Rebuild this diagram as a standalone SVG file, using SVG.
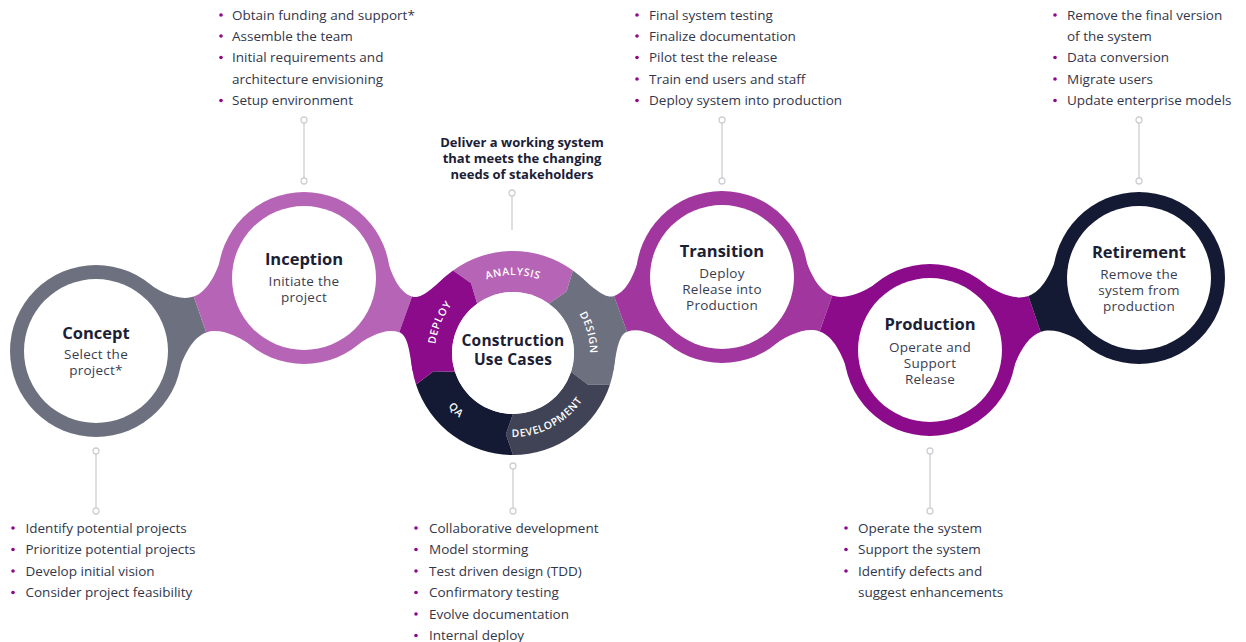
<svg xmlns="http://www.w3.org/2000/svg" width="1246" height="642" viewBox="0 0 1246 642">
<style>
.ttl{font-family:"Open Sans","Noto Sans",sans-serif;font-weight:700;font-size:16.5px;fill:#1b2035;text-anchor:middle}
.ctr{font-family:"Open Sans","Noto Sans",sans-serif;font-weight:700;font-size:15.5px;letter-spacing:0.2px;fill:#1b2035;text-anchor:middle}
.sub{font-family:"Open Sans","Noto Sans",sans-serif;font-size:13.5px;letter-spacing:0.25px;fill:#3a3d50;text-anchor:middle}
.li{font-family:"Open Sans","Noto Sans",sans-serif;font-size:13.5px;fill:#33364a}
.dl{font-family:"Open Sans","Noto Sans",sans-serif;font-weight:700;font-size:13px;fill:#1b2035;text-anchor:middle}
.seg{font-family:"Open Sans","Noto Sans",sans-serif;font-weight:600;font-size:10.5px;fill:#ffffff;letter-spacing:0.6px}
.lead{stroke:#d5d5d9;stroke-width:1.5;fill:none}
.tick{stroke:#cfcfd4;stroke-width:1.3;fill:#ffffff}
.bul{fill:#8b0a8b}
.white{fill:#ffffff}
.c-gray{fill:#6d707e}
.c-lpur{fill:#b665b6}
.c-pur{fill:#a1369f}
.c-dpur{fill:#8b0b8b}
.c-navy{fill:#141a33}
.c-slate{fill:#404356}
</style>
<defs>
<path id="pAnalysis" d="M 462.86 293.25 A 78 78 0 0 1 563.14 293.25"/>
<path id="pDesign" d="M 557.17 289.92 A 77 77 0 0 1 582.79 385.54"/>
<path id="pDevelopment" d="M 491.26 434.14 A 84 84 0 0 0 591.93 381.73"/>
<path id="pQA" d="M 431.86 374.74 A 84 84 0 0 0 491.26 434.14"/>
<path id="pDeploy" d="M 437.66 373.19 A 78 78 0 0 1 474 285.45"/>
</defs>
<rect width="1246" height="642" fill="#ffffff"/>

<g id="connectors">
  <g transform="translate(96,351) rotate(-19.33)">
    <path class="c-gray" d="M 68.8,-50 C 80.5,-33.8 95.2,-19 110.2,-19 L 110.2,19 C 95.2,19 80.5,33.8 68.8,50 Z"/>
    <path class="c-lpur" d="M 151.6,-50 C 139.9,-33.8 125.2,-19 110.2,-19 L 110.2,19 C 125.2,19 139.9,33.8 151.6,50 Z"/>
  </g>
  <g transform="translate(304,278) rotate(19.74)">
    <path class="c-lpur" d="M 68.8,-50 C 80.5,-33.8 93,-19 108,-19 L 108,19 C 93,19 80.5,33.8 68.8,50 Z"/>
    <path class="c-dpur" d="M 133.75,-51 C 125.75,-37.1 118,-19 108,-19 L 108,19 C 118,19 125.75,37.1 133.75,51 Z"/>
  </g>
  <g transform="translate(513,353) rotate(-19.98)">
    <path class="c-gray" d="M 88.3,-51 C 96.3,-37.1 104.4,-19 114.4,-19 L 114.4,19 C 104.4,19 96.3,37.1 88.3,51 Z"/>
    <path class="c-pur" d="M 153.6,-50 C 141.9,-33.8 129.4,-19 114.4,-19 L 114.4,19 C 129.4,19 141.9,33.8 153.6,50 Z"/>
  </g>
  <g transform="translate(722,277) rotate(19.33)">
    <path class="c-pur" d="M 68.8,-50 C 80.5,-33.8 95.2,-19 110.2,-19 L 110.2,19 C 95.2,19 80.5,33.8 68.8,50 Z"/>
    <path class="c-dpur" d="M 151.6,-50 C 139.9,-33.8 125.2,-19 110.2,-19 L 110.2,19 C 125.2,19 139.9,33.8 151.6,50 Z"/>
  </g>
  <g transform="translate(930,350) rotate(-19.01)">
    <path class="c-dpur" d="M 68.8,-50 C 80.5,-33.8 95.55,-19 110.55,-19 L 110.55,19 C 95.55,19 80.5,33.8 68.8,50 Z"/>
    <path class="c-navy" d="M 152.3,-50 C 140.6,-33.8 125.55,-19 110.55,-19 L 110.55,19 C 125.55,19 140.6,33.8 152.3,50 Z"/>
  </g>
  <line class="lead" x1="304" y1="120" x2="304" y2="181"/>
  <circle class="tick" cx="304" cy="120" r="3"/><circle class="tick" cx="304" cy="181" r="3"/>
  <line class="lead" x1="512" y1="193" x2="512" y2="230"/>
  <circle class="tick" cx="512" cy="193" r="3"/>
  <line class="lead" x1="722" y1="120" x2="722" y2="181"/>
  <circle class="tick" cx="722" cy="120" r="3"/><circle class="tick" cx="722" cy="181" r="3"/>
  <line class="lead" x1="1139" y1="120" x2="1139" y2="181"/>
  <circle class="tick" cx="1139" cy="120" r="3"/><circle class="tick" cx="1139" cy="181" r="3"/>
  <line class="lead" x1="96" y1="451" x2="96" y2="511"/>
  <circle class="tick" cx="96" cy="451" r="3"/><circle class="tick" cx="96" cy="511" r="3"/>
  <line class="lead" x1="513" y1="466" x2="513" y2="511"/>
  <circle class="tick" cx="513" cy="466" r="3"/><circle class="tick" cx="513" cy="511" r="3"/>
  <line class="lead" x1="930" y1="451" x2="930" y2="511"/>
  <circle class="tick" cx="930" cy="451" r="3"/><circle class="tick" cx="930" cy="511" r="3"/>
</g>

<g id="concept">
  <circle class="c-gray" cx="96" cy="351" r="86"/>
  <circle class="white" cx="96" cy="351" r="72"/>
  <text class="ttl" x="96" y="339">Concept</text>
  <text class="sub" x="96" y="359">Select the</text>
  <text class="sub" x="96" y="375">project*</text>
</g>

<g id="inception">
  <circle class="c-lpur" cx="304" cy="278" r="86"/>
  <circle class="white" cx="304" cy="278" r="72"/>
  <text class="ttl" x="304" y="265">Inception</text>
  <text class="sub" x="304" y="286">Initiate the</text>
  <text class="sub" x="304" y="302">project</text>
</g>

<g id="construction">
  <path class="c-lpur" d="M 453.04 270.48 A 102 102 0 0 1 572.96 270.48 L 566.47 291.49 L 548.86 303.65 A 61 61 0 0 0 477.14 303.65 L 471.03 283.14 Z"/>
  <path class="c-gray" d="M 572.96 270.48 A 102 102 0 0 1 610.01 384.52 L 588.02 384.84 L 571.02 371.85 A 61 61 0 0 0 548.86 303.65 L 566.47 291.49 Z"/>
  <path class="c-slate" d="M 610.01 384.52 A 102 102 0 0 1 513 455 L 505.89 434.19 L 513 414 A 61 61 0 0 0 571.02 371.85 L 588.02 384.84 Z"/>
  <path class="c-navy" d="M 513 455 A 102 102 0 0 1 415.99 384.52 L 433.59 371.34 L 454.98 371.85 A 61 61 0 0 0 513 414 L 505.89 434.19 Z"/>
  <path class="c-dpur" d="M 415.99 384.52 A 102 102 0 0 1 453.04 270.48 L 471.03 283.14 L 477.14 303.65 A 61 61 0 0 0 454.98 371.85 L 433.59 371.34 Z"/>
  <circle class="white" cx="513" cy="353" r="61"/>
  <text class="seg"><textPath href="#pAnalysis" startOffset="50%" text-anchor="middle">ANALYSIS</textPath></text>
  <text class="seg"><textPath href="#pDesign" startOffset="50%" text-anchor="middle">DESIGN</textPath></text>
  <text class="seg"><textPath href="#pDevelopment" startOffset="50%" text-anchor="middle">DEVELOPMENT</textPath></text>
  <text class="seg"><textPath href="#pQA" startOffset="50%" text-anchor="middle">QA</textPath></text>
  <text class="seg"><textPath href="#pDeploy" startOffset="50%" text-anchor="middle">DEPLOY</textPath></text>
  <text class="ctr" x="513" y="345.5">Construction</text>
  <text class="ctr" x="513" y="364.5">Use Cases</text>
</g>

<g id="transition">
  <circle class="c-pur" cx="722" cy="277" r="86"/>
  <circle class="white" cx="722" cy="277" r="72"/>
  <text class="ttl" x="722" y="257">Transition</text>
  <text class="sub" x="722" y="278">Deploy</text>
  <text class="sub" x="722" y="294">Release into</text>
  <text class="sub" x="722" y="310">Production</text>
</g>

<g id="production">
  <circle class="c-dpur" cx="930" cy="350" r="86"/>
  <circle class="white" cx="930" cy="350" r="72"/>
  <text class="ttl" x="930" y="330">Production</text>
  <text class="sub" x="930" y="352">Operate and</text>
  <text class="sub" x="930" y="368">Support</text>
  <text class="sub" x="930" y="384">Release</text>
</g>

<g id="retirement">
  <circle class="c-navy" cx="1139" cy="278" r="86"/>
  <circle class="white" cx="1139" cy="278" r="72"/>
  <text class="ttl" x="1139" y="258">Retirement</text>
  <text class="sub" x="1139" y="279">Remove the</text>
  <text class="sub" x="1139" y="295">system from</text>
  <text class="sub" x="1139" y="311">production</text>
</g>

<g id="goal">
  <text class="dl" x="522" y="147">Deliver a working system</text>
  <text class="dl" x="522" y="163">that meets the changing</text>
  <text class="dl" x="522" y="179">needs of stakeholders</text>
</g>

<g id="inception-notes">
  <circle class="bul" cx="221" cy="15" r="1.8"/><text class="li" x="232" y="19.5">Obtain funding and support*</text>
  <circle class="bul" cx="221" cy="36" r="1.8"/><text class="li" x="232" y="40.5">Assemble the team</text>
  <circle class="bul" cx="221" cy="57.5" r="1.8"/><text class="li" x="232" y="62">Initial requirements and</text>
  <text class="li" x="232" y="83.5">architecture envisioning</text>
  <circle class="bul" cx="221" cy="100.5" r="1.8"/><text class="li" x="232" y="105">Setup environment</text>
</g>

<g id="transition-notes">
  <circle class="bul" cx="637" cy="15" r="1.8"/><text class="li" x="649" y="19.5">Final system testing</text>
  <circle class="bul" cx="637" cy="36" r="1.8"/><text class="li" x="649" y="40.5">Finalize documentation</text>
  <circle class="bul" cx="637" cy="57.5" r="1.8"/><text class="li" x="649" y="62">Pilot test the release</text>
  <circle class="bul" cx="637" cy="79" r="1.8"/><text class="li" x="649" y="83.5">Train end users and staff</text>
  <circle class="bul" cx="637" cy="100.5" r="1.8"/><text class="li" x="649" y="105">Deploy system into production</text>
</g>

<g id="retirement-notes">
  <circle class="bul" cx="1055" cy="15" r="1.8"/><text class="li" x="1067" y="19.5">Remove the final version</text>
  <text class="li" x="1067" y="40.5">of the system</text>
  <circle class="bul" cx="1055" cy="57.5" r="1.8"/><text class="li" x="1067" y="62">Data conversion</text>
  <circle class="bul" cx="1055" cy="79" r="1.8"/><text class="li" x="1067" y="83.5">Migrate users</text>
  <circle class="bul" cx="1055" cy="100.5" r="1.8"/><text class="li" x="1067" y="105">Update enterprise models</text>
</g>

<g id="concept-notes">
  <circle class="bul" cx="13" cy="528" r="1.8"/><text class="li" x="25.5" y="532.5">Identify potential projects</text>
  <circle class="bul" cx="13" cy="549.5" r="1.8"/><text class="li" x="25.5" y="554">Prioritize potential projects</text>
  <circle class="bul" cx="13" cy="571" r="1.8"/><text class="li" x="25.5" y="575.5">Develop initial vision</text>
  <circle class="bul" cx="13" cy="592.5" r="1.8"/><text class="li" x="25.5" y="597">Consider project feasibility</text>
</g>

<g id="construction-notes">
  <circle class="bul" cx="416" cy="528" r="1.8"/><text class="li" x="429" y="532.5">Collaborative development</text>
  <circle class="bul" cx="416" cy="549.5" r="1.8"/><text class="li" x="429" y="554">Model storming</text>
  <circle class="bul" cx="416" cy="571" r="1.8"/><text class="li" x="429" y="575.5">Test driven design (TDD)</text>
  <circle class="bul" cx="416" cy="592.5" r="1.8"/><text class="li" x="429" y="597">Confirmatory testing</text>
  <circle class="bul" cx="416" cy="614" r="1.8"/><text class="li" x="429" y="618.5">Evolve documentation</text>
  <circle class="bul" cx="416" cy="635.5" r="1.8"/><text class="li" x="429" y="640">Internal deploy</text>
</g>

<g id="production-notes">
  <circle class="bul" cx="846" cy="528" r="1.8"/><text class="li" x="858" y="532.5">Operate the system</text>
  <circle class="bul" cx="846" cy="549.5" r="1.8"/><text class="li" x="858" y="554">Support the system</text>
  <circle class="bul" cx="846" cy="571" r="1.8"/><text class="li" x="858" y="575.5">Identify defects and</text>
  <text class="li" x="858" y="597">suggest enhancements</text>
</g>
</svg>
